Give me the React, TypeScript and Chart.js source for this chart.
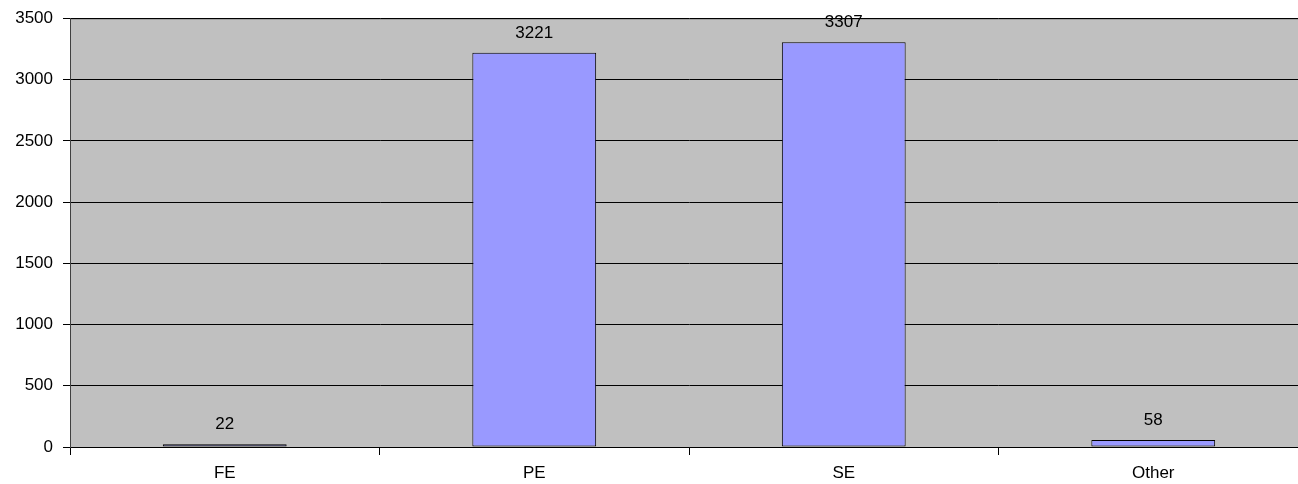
import React, { useEffect, useRef } from "react";
import { Chart, registerables } from "chart.js";

Chart.register(...registerables);

const categories = ["FE", "PE", "SE", "Other"];
const values = [22, 3221, 3307, 58];
const yTicks = [0, 500, 1000, 1500, 2000, 2500, 3000, 3500];

const FONT = "'Liberation Sans', Arial, sans-serif";
const FONT_SIZE = 17;

const bgPlugin = {
  id: "plotBg",
  beforeDraw(chart: any) {
    const { ctx, chartArea } = chart;
    if (!chartArea) return;
    ctx.save();
    ctx.fillStyle = "#C0C0C0";
    ctx.fillRect(chartArea.left, chartArea.top, chartArea.right - chartArea.left, chartArea.bottom - chartArea.top);
    ctx.strokeStyle = "#808080";
    ctx.lineWidth = 1;
    ctx.beginPath();
    ctx.moveTo(chartArea.left, chartArea.top + 0.5);
    ctx.lineTo(chartArea.right, chartArea.top + 0.5);
    ctx.stroke();
    ctx.restore();
  },
};

const labelPlugin = {
  id: "valueLabels",
  afterDatasetsDraw(chart: any) {
    const { ctx } = chart;
    const meta = chart.getDatasetMeta(0);
    ctx.save();
    ctx.fillStyle = "#000000";
    ctx.font = `${FONT_SIZE}px ${FONT}`;
    ctx.textAlign = "center";
    ctx.textBaseline = "bottom";
    meta.data.forEach((bar: any, i: number) => {
      ctx.fillText(String(values[i]), bar.x, bar.y - 11);
    });
    ctx.restore();
  },
};

export default function App() {
  const ref = useRef<HTMLCanvasElement | null>(null);
  useEffect(() => {
    if (!ref.current) return;
    const chart = new Chart(ref.current, {
      type: "bar",
      data: {
        labels: categories,
        datasets: [
          {
            data: values,
            backgroundColor: "#9999FF",
            borderColor: "#000000",
            borderWidth: 1,
            borderSkipped: false,
            categoryPercentage: 1,
            barPercentage: 0.4,
          },
        ],
      },
      options: {
        animation: false,
        responsive: true,
        maintainAspectRatio: false,
        layout: { padding: { top: 18, right: 0, left: 0, bottom: 0 } },
        plugins: { legend: { display: false }, tooltip: { enabled: false } },
        scales: {
          x: {
            offset: true,
            grid: {
              offset: true,
              drawOnChartArea: false,
              drawTicks: true,
              tickLength: 8,
              color: "#000000",
            },
            border: { color: "#000000", width: 1 },
            ticks: { color: "#000000", font: { family: FONT, size: FONT_SIZE }, padding: 8 },
            afterFit(scale: any) {
              scale.height = 37;
            },
          },
          y: {
            min: 0,
            max: 3500,
            afterBuildTicks(scale: any) {
              scale.ticks = yTicks.map((v) => ({ value: v }));
            },
            grid: { color: "#000000", tickLength: 7, lineWidth: 1 },
            border: { color: "#404040", width: 1 },
            ticks: {
              color: "#000000",
              font: { family: FONT, size: FONT_SIZE, lineHeight: 1 },
              padding: 10,
              callback: (v: any) => String(v),
            },
            afterFit(scale: any) {
              scale.width = 70;
            },
          },
        },
      },
      plugins: [bgPlugin, labelPlugin],
    });
    return () => chart.destroy();
  }, []);
  return (
    <div style={{ position: "fixed", left: 0, top: 0, width: 1298, height: 484, overflow: "hidden" }}>
      <div style={{ position: "absolute", left: 0, top: 0, width: 1308, height: 484 }}>
        <canvas ref={ref} />
      </div>
    </div>
  );
}
